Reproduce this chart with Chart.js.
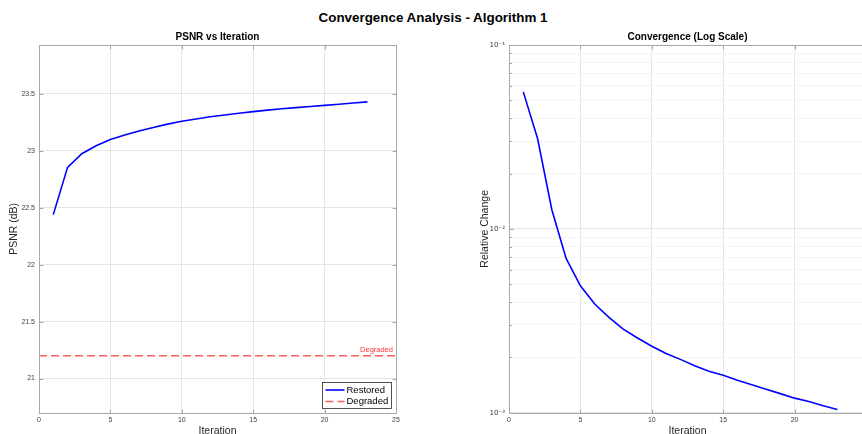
<!DOCTYPE html>
<html>
<head>
<meta charset="utf-8">
<script src="https://cdn.jsdelivr.net/npm/chart.js@4.4.1/dist/chart.umd.min.js"></script>
<style>
  html, body { margin: 0; padding: 0; background: #fff; }
  body { width: 862px; height: 434px; overflow: hidden; position: relative; font-family: "Liberation Sans", Arial, sans-serif; }
  #suptitle { position: absolute; left: 2px; width: 862px; top: 10px; text-align: center; font-weight: bold; font-size: 13.4px; color: #000; }
  canvas { position: absolute; top: 0; }
  #psnrChart { left: 0; }
  #convChart { left: 420px; }
</style>
</head>
<body>
<div id="suptitle">Convergence Analysis - Algorithm 1</div>
<canvas id="psnrChart" width="420" height="440"></canvas>
<canvas id="convChart" width="480" height="440"></canvas>
<script>
// values
const iterations = [1, 2, 3, 4, 5, 6, 7, 8, 9, 10, 11, 12, 13, 14, 15, 16, 17, 18, 19, 20, 21, 22, 23];
const psnrRestored = [22.44, 22.855, 22.975, 23.045, 23.10, 23.14, 23.175, 23.205, 23.235, 23.26, 23.28, 23.30,
                      23.315, 23.33, 23.345, 23.358, 23.37, 23.38, 23.39, 23.40, 23.41, 23.42, 23.43];
const psnrDegraded = 21.2;
const relativeChange = [0.0556, 0.031, 0.0127, 0.0069, 0.0049, 0.0039, 0.0033, 0.00285, 0.00255, 0.0023, 0.0021,
                        0.00195, 0.0018, 0.00168, 0.0016, 0.0015, 0.00142, 0.00134, 0.00127, 0.0012, 0.00115,
                        0.00109, 0.00104];
const iterTicks = [0, 5, 10, 15, 20, 25];
const psnrTicks = [21, 21.5, 22, 22.5, 23, 23.5];
const logDecades = [-3, -2, -1];

const FONT = '"Liberation Sans", Arial, sans-serif';
const GRID = '#e6e6e6';
const MINOR_GRID = '#f5f5f5';
const FRAME = '#a8a8a8';

// log ticks: 1..9 x 10^e, labels only on the decades
const logTicks = [];
logDecades.forEach((e, i) => {
    const last = i === logDecades.length - 1;
    for (let m = 1; m <= (last ? 1 : 9); m++) {
        logTicks.push(Number((m * Math.pow(10, e)).toPrecision(3)));
    }
});
const isDecade = v => Math.abs(Math.log10(v) - Math.round(Math.log10(v))) < 1e-9;
const sup = { '-': '\u207B', '0': '\u2070', '1': '\u00B9', '2': '\u00B2', '3': '\u00B3', '4': '\u2074' };
const decadeLabel = v => '10' + String(Math.round(Math.log10(v))).split('').map(c => sup[c]).join('');

// MATLAB style box, inward ticks, legend and text label
const matlabFrame = {
    id: 'matlabFrame',
    afterDatasetsDraw(chart, args, opts) {
        const { ctx, chartArea: a, scales } = chart;
        const L = Math.round(a.left) + 0.5, R = Math.round(a.right) + 0.5;
        const T = Math.round(a.top) + 0.5, B = Math.round(a.bottom) + 0.5;
        ctx.save();
        ctx.strokeStyle = FRAME;
        ctx.lineWidth = 1;
        ctx.beginPath();
        scales.x.ticks.forEach(t => {
            const px = Math.round(scales.x.getPixelForValue(t.value)) + 0.5;
            ctx.moveTo(px, B); ctx.lineTo(px, B - 4);
            ctx.moveTo(px, T); ctx.lineTo(px, T + 4);
        });
        scales.y.ticks.forEach(t => {
            const py = Math.round(scales.y.getPixelForValue(t.value)) + 0.5;
            const len = (opts.log && !isDecade(t.value)) ? 2.5 : 4;
            ctx.moveTo(L, py); ctx.lineTo(L + len, py);
            ctx.moveTo(R, py); ctx.lineTo(R - len, py);
        });
        ctx.stroke();
        ctx.strokeRect(L, T, R - L, B - T);

        if (opts.note) {
            const py = scales.y.getPixelForValue(opts.note.value);
            ctx.fillStyle = opts.note.color;
            ctx.font = '7.5px ' + FONT;
            ctx.textAlign = 'right';
            ctx.textBaseline = 'bottom';
            ctx.fillText(opts.note.text, a.right - 3, py - 2);
        }

        if (opts.legend) {
            const w = 69, h = 26;
            const bx = Math.round(a.right - 5 - w) + 0.5, by = Math.round(a.bottom - 5 - h) + 0.5;
            ctx.fillStyle = '#fff';
            ctx.fillRect(bx, by, w, h);
            ctx.strokeStyle = '#262626';
            ctx.lineWidth = 0.8;
            ctx.strokeRect(bx, by, w, h);
            ctx.font = '9.5px ' + FONT;
            ctx.textAlign = 'left';
            ctx.textBaseline = 'middle';
            chart.data.datasets.forEach((ds, i) => {
                const ry = by + 7.5 + i * 11.5;
                ctx.strokeStyle = ds.borderColor;
                ctx.lineWidth = ds.borderWidth;
                ctx.setLineDash(ds.borderDash || []);
                ctx.beginPath();
                ctx.moveTo(bx + 3, ry); ctx.lineTo(bx + 22, ry);
                ctx.stroke();
                ctx.setLineDash([]);
                ctx.fillStyle = '#000';
                ctx.fillText(ds.label, bx + 24, ry);
            });
        }
        ctx.restore();
    }
};

function xAxis(height) {
    return {
        type: 'linear',
        min: iterTicks[0],
        max: iterTicks[iterTicks.length - 1],
        afterBuildTicks: s => { s.ticks = iterTicks.map(v => ({ value: v })); },
        afterFit: s => { s.height = height; },
        grid: { color: GRID, drawTicks: false },
        border: { display: false },
        ticks: { font: { size: 7, family: FONT }, color: '#404040', padding: 3, maxRotation: 0 },
        title: { display: true, text: 'Iteration', font: { size: 10.5, family: FONT }, color: '#262626', padding: { top: 0, bottom: 3 } }
    };
}

function subTitle(text) {
    return {
        display: true, text: text, fullSize: false,
        font: { size: 10, weight: 'bold', family: FONT }, color: '#000',
        padding: { top: 31, bottom: 2 }
    };
}

// Left: PSNR vs Iteration
new Chart(document.getElementById('psnrChart'), {
    type: 'line',
    data: {
        datasets: [{
            label: 'Restored',
            data: iterations.map((it, i) => ({ x: it, y: psnrRestored[i] })),
            borderColor: '#0000ff',
            borderWidth: 1.6,
            pointRadius: 0,
            tension: 0
        }, {
            label: 'Degraded',
            data: [iterTicks[0], iterTicks[iterTicks.length - 1]].map(x => ({ x: x, y: psnrDegraded })),
            borderColor: '#ff5c5c',
            borderWidth: 1.4,
            borderDash: [8, 4],
            pointRadius: 0
        }]
    },
    options: {
        responsive: false,
        animation: false,
        layout: { padding: { left: 0, right: 24, top: 0, bottom: 0 } },
        scales: {
            x: xAxis(27.3),
            y: {
                type: 'linear',
                min: 20.7,
                max: 23.93,
                afterBuildTicks: s => { s.ticks = psnrTicks.map(v => ({ value: v })); },
                afterFit: s => { s.width = 39; },
                grid: { color: GRID, drawTicks: false },
                border: { display: false },
                ticks: { font: { size: 7, family: FONT }, color: '#404040', padding: 4, callback: v => String(v) },
                title: { display: true, text: 'PSNR (dB)', font: { size: 10.5, family: FONT }, color: '#262626', padding: { top: 8, bottom: 0 } }
            }
        },
        plugins: {
            legend: { display: false },
            tooltip: { enabled: false },
            title: subTitle('PSNR vs Iteration'),
            matlabFrame: { legend: true, note: { text: 'Degraded', value: psnrDegraded, color: '#ff3030' } }
        }
    },
    plugins: [matlabFrame]
});

// Right: Convergence (Log Scale) - its right edge runs past the window, as in the original
new Chart(document.getElementById('convChart'), {
    type: 'line',
    data: {
        datasets: [{
            label: 'Relative Change',
            data: iterations.map((it, i) => ({ x: it, y: relativeChange[i] })),
            borderColor: '#0000ff',
            borderWidth: 1.6,
            pointRadius: 0,
            tension: 0
        }]
    },
    options: {
        responsive: false,
        animation: false,
        layout: { padding: { left: 52, right: 34, top: 0, bottom: 0 } },
        scales: {
            x: xAxis(27.3),
            y: {
                type: 'logarithmic',
                min: logTicks[0],
                max: logTicks[logTicks.length - 1],
                afterBuildTicks: s => { s.ticks = logTicks.map(v => ({ value: v })); },
                afterFit: s => { s.width = 37; },
                grid: { color: c => (c.tick && isDecade(c.tick.value)) ? GRID : MINOR_GRID, drawTicks: false },
                border: { display: false },
                ticks: { font: { size: 7, family: '"DejaVu Sans", sans-serif' }, color: '#404040', padding: 4, autoSkip: false,
                         callback: v => isDecade(v) ? decadeLabel(v) : '' },
                title: { display: true, text: 'Relative Change', font: { size: 10.5, family: FONT }, color: '#262626', padding: { top: 7, bottom: 0 } }
            }
        },
        plugins: {
            legend: { display: false },
            tooltip: { enabled: false },
            title: subTitle('Convergence (Log Scale)'),
            matlabFrame: { log: true }
        }
    },
    plugins: [matlabFrame]
});
</script>
</body>
</html>
